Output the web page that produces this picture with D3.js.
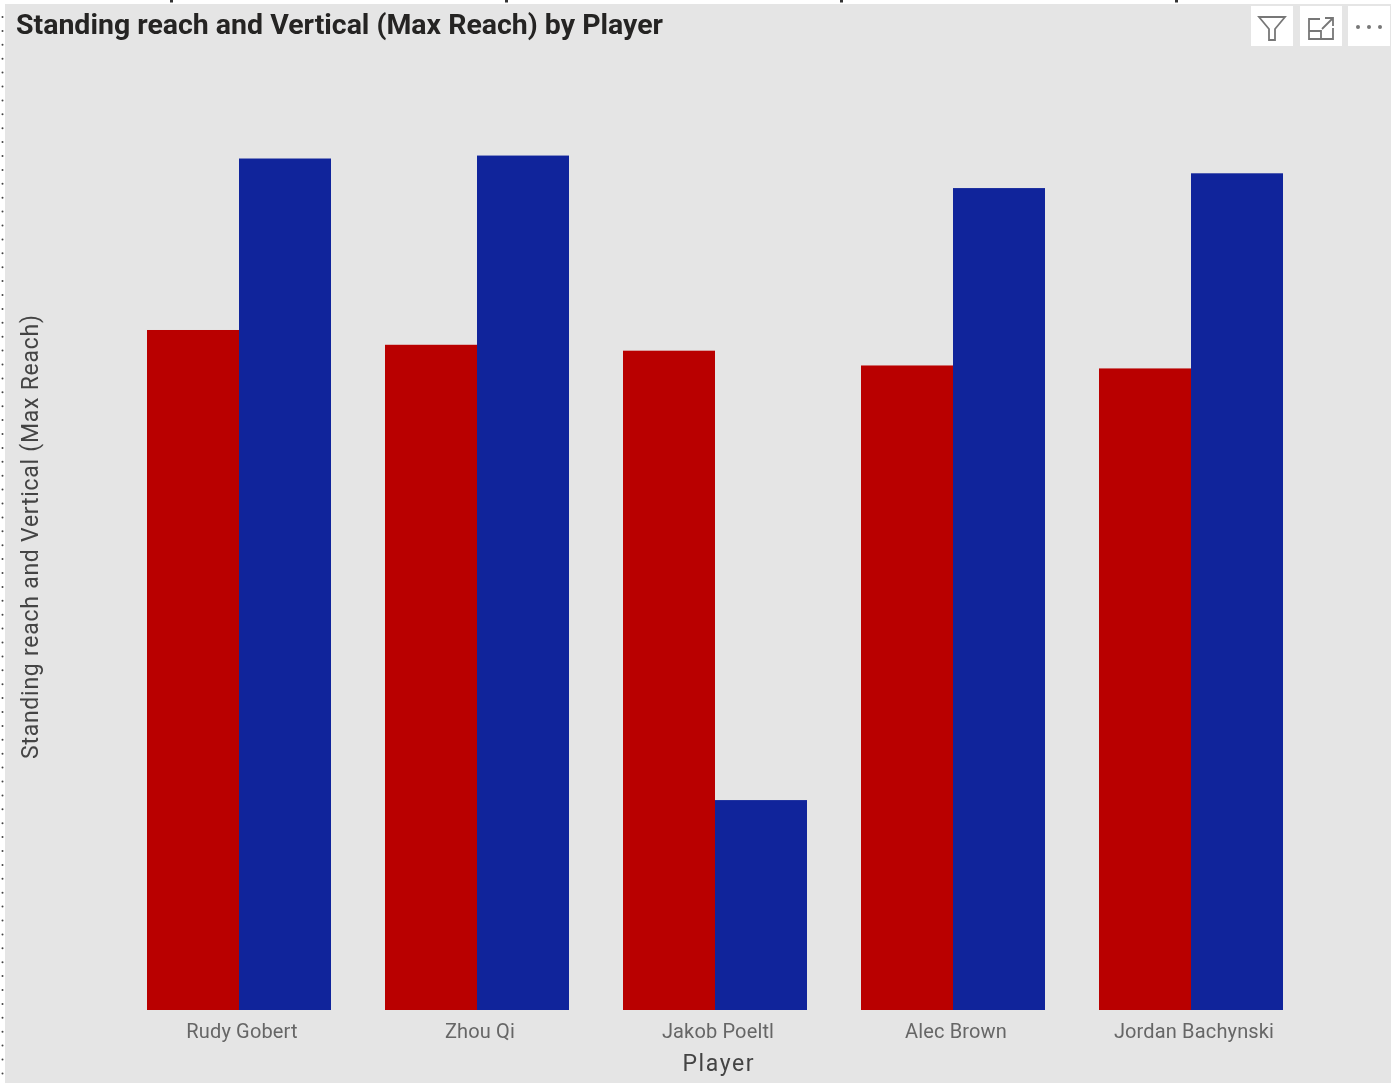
<!DOCTYPE html>
<html lang="en">
<head>
    <meta charset="UTF-8">
    <title>Standing reach and Vertical (Max Reach) by Player</title>
    <script src="https://cdnjs.cloudflare.com/ajax/libs/d3/7.8.5/d3.min.js"></script>
    <style>
        html, body { margin: 0; padding: 0; background: #fff; overflow: hidden; }
        svg { display: block; font-family: Roboto, sans-serif; filter: blur(0.4px); }
    </style>
</head>
<body>
    <svg width="1394" height="1083"></svg>

    <script>
        const players = ["Rudy Gobert", "Zhou Qi", "Jakob Poeltl", "Alec Brown", "Jordan Bachynski"];
        const standingReach = [115, 112.5, 111.5, 109, 108.5];
        const verticalMaxReach = [144, 144.5, 35.5, 139, 141.5];
        const seriesColors = ["#b90000", "#10249b"];

        const svg = d3.select("svg");

        // visual background
        svg.append("rect")
            .attr("x", 5).attr("y", 4)
            .attr("width", 1386).attr("height", 1079)
            .attr("fill", "#e5e5e5");

        // selection dots around the visual
        svg.append("g").selectAll("circle")
            .data(d3.range(17, 1083, 13.9))
            .enter().append("circle")
            .attr("cx", 2.5).attr("cy", d => d).attr("r", 1)
            .attr("fill", "#444");
        svg.append("g").selectAll("rect")
            .data([170, 505, 840, 1175])
            .enter().append("rect")
            .attr("x", d => d).attr("y", 0)
            .attr("width", 3).attr("height", 2.5)
            .attr("fill", "#333");

        const x = d3.scaleBand()
            .domain(players)
            .range([147, 1283])
            .paddingInner(54 / 238)
            .paddingOuter(0);
        const x1 = d3.scaleBand()
            .domain([0, 1])
            .range([0, x.bandwidth()]);
        const y = d3.scaleLinear()
            .domain([0, 145])
            .range([1010, 152.6]);

        const groups = svg.append("g").selectAll("g")
            .data(players)
            .enter().append("g")
            .attr("transform", d => `translate(${x(d)},0)`);

        groups.selectAll("rect")
            .data((d, i) => [standingReach[i], verticalMaxReach[i]])
            .enter().append("rect")
            .attr("x", (d, i) => x1(i))
            .attr("y", d => y(d))
            .attr("width", x1.bandwidth())
            .attr("height", d => y(0) - y(d))
            .attr("fill", (d, i) => seriesColors[i]);

        const axis = svg.append("g")
            .attr("transform", "translate(3,1010)")
            .call(d3.axisBottom(x).tickSize(0).tickPadding(14));
        axis.select(".domain").remove();
        axis.selectAll("text")
            .attr("font-family", "Roboto, sans-serif")
            .attr("font-size", 20)
            .attr("letter-spacing", 0.15)
            .attr("fill", "#666");

        svg.append("text")
            .attr("x", 16).attr("y", 34)
            .attr("font-size", 28).attr("font-weight", 700)
            .attr("textLength", 647).attr("lengthAdjust", "spacingAndGlyphs")
            .attr("fill", "#252423")
            .text("Standing reach and Vertical (Max Reach) by Player");

        svg.append("text")
            .attr("x", 718).attr("y", 1071)
            .attr("text-anchor", "middle")
            .attr("font-size", 23)
            .attr("textLength", 71).attr("lengthAdjust", "spacing")
            .attr("fill", "#444")
            .text("Player");

        svg.append("text")
            .attr("transform", "translate(38,537) rotate(-90)")
            .attr("text-anchor", "middle")
            .attr("font-size", 23)
            .attr("textLength", 444).attr("lengthAdjust", "spacing")
            .attr("fill", "#444")
            .text("Standing reach and Vertical (Max Reach)");

        // header icons
        svg.append("g").selectAll("rect")
            .data([1251, 1300, 1348])
            .enter().append("rect")
            .attr("x", d => d).attr("y", 6)
            .attr("width", 42).attr("height", 40)
            .attr("fill", "#fff");

        const icons = svg.append("g")
            .attr("fill", "none")
            .attr("stroke", "#777")
            .attr("stroke-width", 1.8);
        icons.append("path").attr("d", "M1259 17H1285L1275 29V40H1269V29Z");
        icons.append("path").attr("d", "M1320 19H1309V39H1333V28M1309 31H1321V39M1322 29L1332 19M1325 18H1333V26");
        svg.append("g").selectAll("circle")
            .data([1358, 1369, 1380])
            .enter().append("circle")
            .attr("cx", d => d).attr("cy", 27).attr("r", 2)
            .attr("fill", "#777");
    </script>
</body>
</html>
